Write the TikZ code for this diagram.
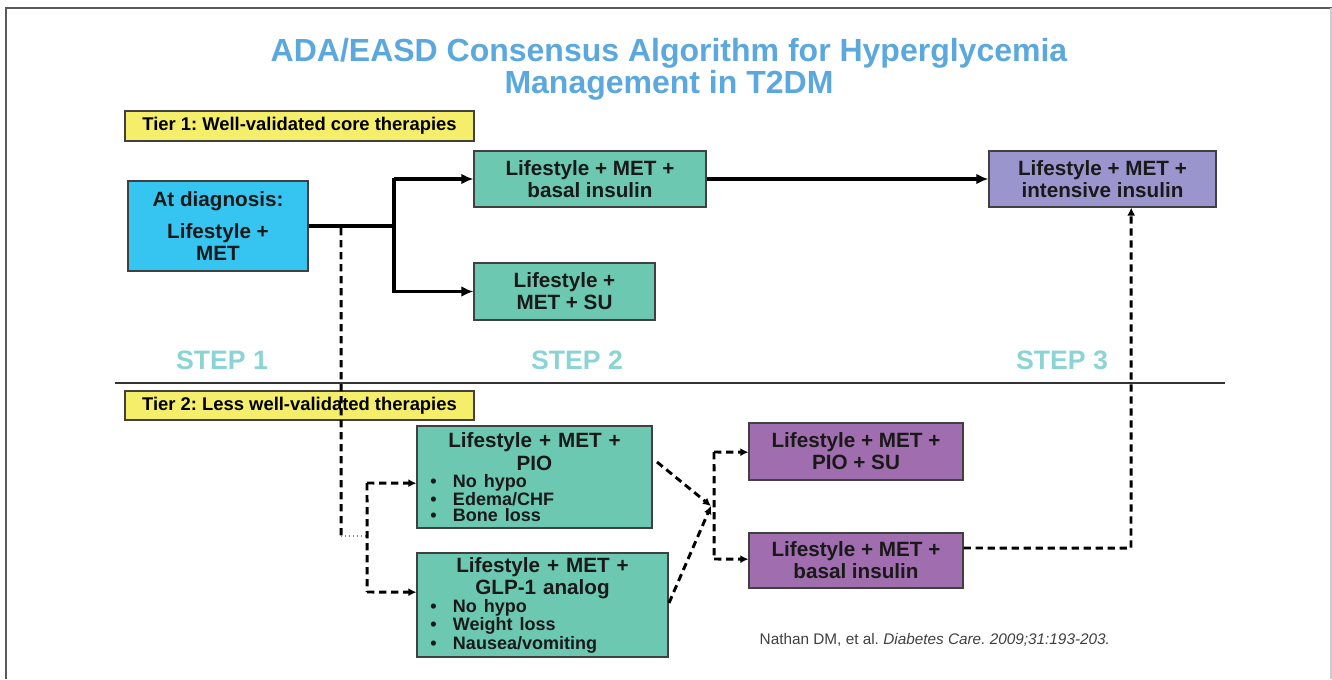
\documentclass[tikz,border=0pt]{standalone}
\usepackage{fontspec}
\setmainfont{Liberation Sans}
\usetikzlibrary{arrows.meta,calc}
\definecolor{titleblue}{RGB}{90,168,222}
\definecolor{stepteal}{RGB}{138,212,212}
\definecolor{diagblue}{RGB}{54,197,240}
\definecolor{tgreen}{RGB}{108,200,176}
\definecolor{lavender}{RGB}{155,149,205}
\definecolor{tpurple}{RGB}{160,110,174}
\definecolor{tyellow}{RGB}{245,238,106}
\definecolor{framegray}{RGB}{90,90,90}
\frenchspacing
\begin{document}
\begin{tikzpicture}[x=0.75pt,y=-0.75pt,
  box/.style={draw=black!75, line width=0.9pt, inner sep=2pt, align=center,
    font=\bfseries\fontsize{15.5}{16.5}\selectfont, text=black!90},
  gbox/.style={box, fill=tgreen},
  pbox/.style={box, fill=tpurple},
  tierbox/.style={draw=black!75, line width=0.9pt, fill=tyellow, inner sep=2pt,
    minimum width=261.75pt, font=\bfseries\fontsize{13.8}{15}\selectfont},
  steplabel/.style={text=stepteal, font=\bfseries\fontsize{20}{22}\selectfont},
  solidline/.style={line width=2.4pt, line join=round},
  solidarrow/.style={solidline, -{Latex[length=9pt,width=8pt]}},
  dashline/.style={line width=2.2pt, dash pattern=on 5.5pt off 3.5pt},
  dasharrow/.style={dashline, -{Latex[length=6pt,width=6pt]}}
]
\useasboundingbox (0,0) rectangle (1332,679);
% frame
\draw[framegray, line width=1.5pt] (6,679) -- (6,8) -- (1332,8);
\draw[black!20, line width=0.8pt] (1331,8) -- (1331,679);

% title
\node[text=titleblue, font=\bfseries\fontsize{24}{24}\selectfont, align=center] (title) at (669,69)
  {ADA/EASD Consensus Algorithm for Hyperglycemia\\Management in T2DM};

% tier labels
\node[tierbox, minimum height=22.5pt] (tier1) at (299.5,126) {Tier 1: Well-validated core therapies};
\node[tierbox, minimum height=21.75pt] (tier2) at (299.5,405.5) {Tier 2: Less well-validated therapies};

% tier 1 boxes
\node[box, fill=diagblue, minimum width=135pt, minimum height=67.5pt] (diag) at (218,226)
  {At diagnosis:\\[8pt]Lifestyle +\\MET};
\node[gbox, minimum width=174pt, minimum height=42pt] (basal1) at (590,179)
  {Lifestyle + MET +\\basal insulin};
\node[gbox, minimum width=135.75pt, minimum height=42.75pt] (su) at (564.5,291.5)
  {Lifestyle +\\MET + SU};
\node[box, fill=lavender, minimum width=170.25pt, minimum height=42pt] (intens) at (1102.5,179)
  {Lifestyle + MET +\\intensive insulin};

% step labels and rule
\node[steplabel] (s1) at (222,360) {STEP 1};
\node[steplabel] (s2) at (577,360) {STEP 2};
\node[steplabel] (s3) at (1062,360) {STEP 3};
\coordinate (ruleL) at (115,383);
\coordinate (ruleR) at (1225,383);
\draw[black!80, line width=1pt] (ruleL) -- (ruleR);

% tier 2 boxes
\node[gbox, text width=172.25pt, minimum height=76.5pt, align=center] (pio) at (534.5,477)
  {\fontsize{15.5}{17.5}\selectfont Lifestyle + MET +\\PIO\par
   {\fontsize{13.5}{12.3}\selectfont\raggedright\leftskip=8pt
   \makebox[17pt][l]{\textbullet}No hypo\\
   \makebox[17pt][l]{\textbullet}Edema/CHF\\
   \makebox[17pt][l]{\textbullet}Bone loss\par}};
\node[gbox, text width=184.25pt, minimum height=78pt, align=center] (glp) at (542.5,605)
  {\fontsize{15.5}{16.5}\selectfont Lifestyle + MET +\\GLP-1 analog\par
   {\fontsize{13.5}{12.3}\selectfont\raggedright\leftskip=8pt
   \makebox[17pt][l]{\textbullet}No hypo\\
   \makebox[17pt][l]{\textbullet}Weight loss\\
   \makebox[17pt][l]{\textbullet}Nausea/vomiting\par}};
\node[pbox, minimum width=160.5pt, minimum height=42.75pt] (piosu) at (856,451.5)
  {Lifestyle + MET +\\PIO + SU};
\node[pbox, minimum width=160.5pt, minimum height=41.25pt] (basal2) at (856,560.5)
  {Lifestyle + MET +\\basal insulin};

% citation
\node[text=black!75, font=\fontsize{11.5}{13}\selectfont, anchor=west] (cite) at (755,640)
  {Nathan DM, et al. \textit{Diabetes Care. 2009;31:193-203.}};

% solid connectors
\coordinate (jn) at (394,226);
\draw[solidline] (diag.east) -- (jn);
\draw[line width=3.6pt] ($(jn |- basal1.west)+(0,-1)$) -- ($(jn |- su.west)+(0,1)$);
\draw[solidarrow] (jn |- basal1.west) -- (basal1.west);
\draw[solidarrow] (jn |- su.west) -- (su.west);
\draw[solidarrow] (basal1.east) -- (intens.west);

% dashed connectors, tier 2 (tiny offsets keep the dashes rendered at full width)
\coordinate (d1) at (341,228);
\coordinate (d2) at (341,536);
\coordinate (d3) at (367,536);
\coordinate (ja) at (367,483);
\coordinate (jb) at (367,592);
\draw[dashline] (d1) -- ($(d2)+(0.2,0)$);
\draw[black!45, line width=1pt, dotted] (d2) -- (d3);
\draw[dashline] (ja) -- ($(jb)+(0.2,0)$);
\draw[dasharrow] (ja) -- ($(ja -| pio.west)+(0,0.2)$);
\draw[dasharrow] (jb) -- ($(jb -| glp.west)+(0,0.2)$);

\coordinate (m) at (711,506);
\coordinate (pioout) at (657,462);
\coordinate (glpout) at (669,603);
\draw[dasharrow] (pioout) -- (m);
\draw[dasharrow] (glpout) -- (m);
\coordinate (ka) at (714,452);
\coordinate (kb) at (714,559);
\draw[dashline] (ka) -- ($(kb)+(0.2,0)$);
\draw[dasharrow] (ka) -- ($(ka -| piosu.west)+(0,0.2)$);
\draw[dasharrow] (kb) -- ($(kb -| basal2.west)+(0,0.2)$);

\coordinate (up) at (1131,548);
\draw[dasharrow] (basal2.east |- up) -- ($(up)+(0,0.2)$) -- ($(up |- intens.south)+(0.2,0)$);
\end{tikzpicture}
\end{document}
